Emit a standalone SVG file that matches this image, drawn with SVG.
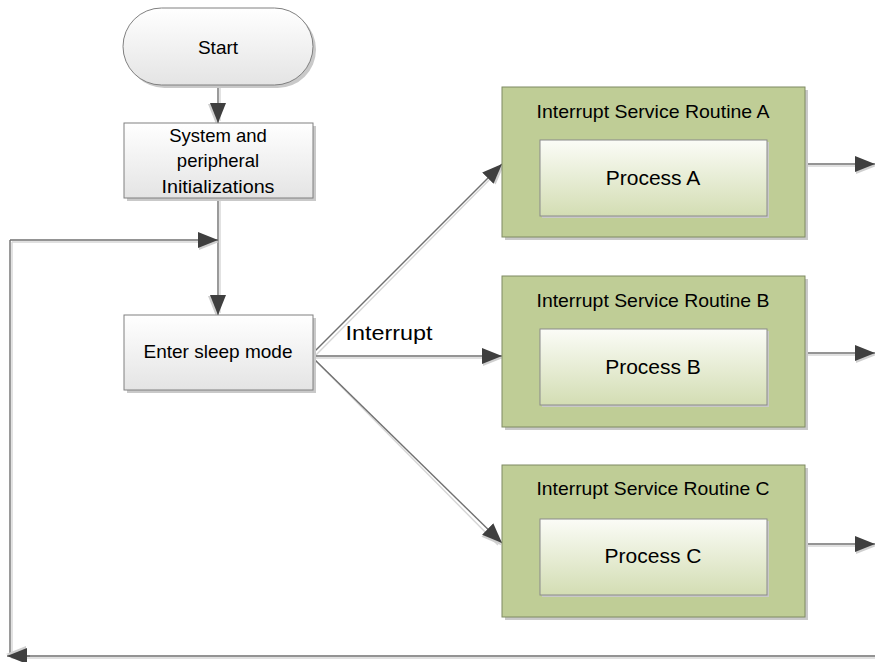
<svg xmlns="http://www.w3.org/2000/svg" width="875" height="662" viewBox="0 0 875 662">
<defs>
<style>
.t{font-family:"Liberation Sans",Arial,sans-serif;fill:#000;text-anchor:middle}
.gbox{fill:url(#gGray);stroke:#808080;stroke-width:1}
.shadow{fill:#c9c9c9}
.isr{fill:#bfcd96;stroke:#7f8a63;stroke-width:1}
.proc{fill:url(#gGreen);stroke:#8a8a8a;stroke-width:1}
.ln{fill:none;stroke:#707070;stroke-width:1.4}
.sh{fill:none;stroke:#d6d6d6;stroke-width:1.4}
</style>
<linearGradient id="gGray" x1="0" y1="0" x2="0" y2="1">
<stop offset="0" stop-color="#ffffff"/><stop offset="1" stop-color="#e4e4e4"/>
</linearGradient>
<linearGradient id="gGreen" x1="0" y1="0" x2="0" y2="1">
<stop offset="0" stop-color="#fbfcf7"/><stop offset="1" stop-color="#d3ddb3"/>
</linearGradient>
<marker id="ah" viewBox="0 0 24 22" refX="20" refY="9" markerWidth="24" markerHeight="22" markerUnits="userSpaceOnUse" orient="auto">
<path d="M1,3 L21,11 L1,19 z" fill="#cfcfcf"/>
<path d="M0,1 L20,9 L0,17 z" fill="#3f3f3f"/>
</marker>
</defs>

<g id="connectors">
<path class="sh" d="M220,87 V121"/>
<path class="sh" d="M220,200 V313"/>
<path class="sh" d="M12,242 H216"/>
<path class="sh" d="M12,242 V658 H875"/>
<path class="sh" d="M315,356 L500,169"/>
<path class="sh" d="M315,358 H500"/>
<path class="sh" d="M315,360 L498,545"/>
<path class="sh" d="M807,166 H860"/>
<path class="sh" d="M807,355 H860"/>
<path class="sh" d="M807,546 H860"/>
<path class="ln" d="M218,85 V123" marker-end="url(#ah)"/>
<path class="ln" d="M218,198 V315" marker-end="url(#ah)"/>
<path class="ln" d="M10,240 H218" marker-end="url(#ah)"/>
<path class="ln" d="M875,656 H10 V240"/>
<path class="ln" d="M30,656 H7" marker-end="url(#ah)"/>
<path class="ln" d="M313,353 L502,164" marker-end="url(#ah)"/>
<path class="ln" d="M313,356 H502" marker-end="url(#ah)"/>
<path class="ln" d="M313,358 L502,543" marker-end="url(#ah)"/>
<path class="ln" d="M805,164 H875" marker-end="url(#ah)"/>
<path class="ln" d="M805,353 H875" marker-end="url(#ah)"/>
<path class="ln" d="M805,544 H875" marker-end="url(#ah)"/>
<text class="t" x="389" y="340" font-size="21" textLength="87" lengthAdjust="spacingAndGlyphs">Interrupt</text>
</g>

<g id="start">
<rect class="shadow" x="126" y="11" width="190" height="77" rx="38.5"/>
<rect class="gbox" x="123" y="8" width="190" height="77" rx="38.5"/>
<text class="t" x="218" y="54" font-size="19">Start</text>
</g>

<g id="init">
<rect class="shadow" x="127" y="126" width="189" height="75"/>
<rect class="gbox" x="124" y="123" width="189" height="75"/>
<text class="t" x="218" y="142" font-size="18.5">System and</text>
<text class="t" x="218" y="167" font-size="18.5">peripheral</text>
<text class="t" x="218" y="193" font-size="18.5" textLength="113" lengthAdjust="spacingAndGlyphs">Initializations</text>
</g>

<g id="sleep">
<rect class="shadow" x="127" y="318" width="189" height="75"/>
<rect class="gbox" x="124" y="315" width="189" height="75"/>
<text class="t" x="218" y="358" font-size="19">Enter sleep mode</text>
</g>

<g id="isrA">
<rect class="shadow" x="505" y="90" width="303" height="150"/>
<rect class="isr" x="502" y="87" width="303" height="150"/>
<text class="t" x="653" y="118" font-size="18.5" textLength="233" lengthAdjust="spacingAndGlyphs">Interrupt Service Routine A</text>
<rect class="shadow" x="542" y="142" width="227" height="76"/>
<rect class="proc" x="540" y="140" width="227" height="76"/>
<text class="t" x="653" y="185" font-size="21">Process A</text>
</g>

<g id="isrB">
<rect class="shadow" x="505" y="279" width="303" height="151"/>
<rect class="isr" x="502" y="276" width="303" height="151"/>
<text class="t" x="653" y="307" font-size="18.5" textLength="233" lengthAdjust="spacingAndGlyphs">Interrupt Service Routine B</text>
<rect class="shadow" x="542" y="331" width="227" height="76"/>
<rect class="proc" x="540" y="329" width="227" height="76"/>
<text class="t" x="653" y="374" font-size="21">Process B</text>
</g>

<g id="isrC">
<rect class="shadow" x="505" y="468" width="303" height="152"/>
<rect class="isr" x="502" y="465" width="303" height="152"/>
<text class="t" x="653" y="495" font-size="18.5" textLength="233" lengthAdjust="spacingAndGlyphs">Interrupt Service Routine C</text>
<rect class="shadow" x="542" y="521" width="227" height="76"/>
<rect class="proc" x="540" y="519" width="227" height="76"/>
<text class="t" x="653" y="563" font-size="21">Process C</text>
</g>
</svg>
